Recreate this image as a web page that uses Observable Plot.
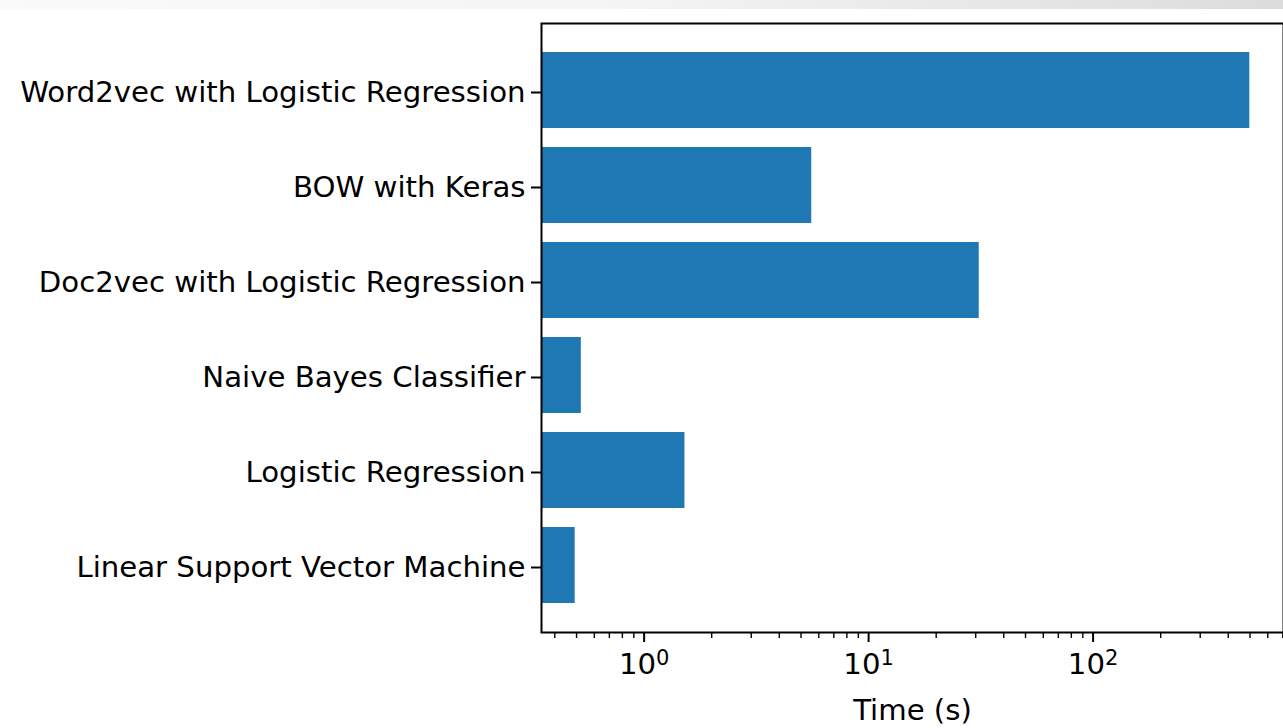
<!DOCTYPE html>
<html>
<head>
<meta charset="utf-8">
<script src="https://cdn.jsdelivr.net/npm/d3@7"></script>
<script src="https://cdn.jsdelivr.net/npm/@observablehq/plot@0.6"></script>
<style>
  html, body { margin: 0; padding: 0; background: #fff; overflow: hidden; }
  #strip { height: 9px; width: 1283px; background: linear-gradient(to right, #fafafa 0%, #f4f4f4 50%, #dcdcdc 100%); position: absolute; top: 0; left: 0; }
  #chart svg { display: block; }
</style>
</head>
<body>
<div id="strip"></div>
<div id="chart"></div>
<script>
const names = [
  "Word2vec with Logistic Regression",
  "BOW with Keras",
  "Doc2vec with Logistic Regression",
  "Naive Bayes Classifier",
  "Logistic Regression",
  "Linear Support Vector Machine"
];
const times = [499, 5.58, 31.1, 0.525, 1.52, 0.493];
const majorTicks = [1, 10, 100];
const minorTicks = [0.4, 0.5, 0.6, 0.7, 0.8, 0.9, 2, 3, 4, 5, 6, 7, 8, 9, 20, 30, 40, 50, 60, 70, 80, 90, 200, 300, 400, 500, 600, 700];
const xDomain = [0.349, 705];

const data = names.map((name, i) => ({name, time: times[i]}));

const chart = Plot.plot({
  width: 1283,
  height: 728,
  marginLeft: 541,
  marginRight: 0,
  marginTop: 23,
  marginBottom: 96,
  style: {fontFamily: "DejaVu Sans", fontSize: "29.2px", color: "#000", background: "transparent"},
  x: {type: "log", domain: xDomain},
  y: {domain: names, paddingInner: 0.2, paddingOuter: 0.283},
  marks: [
    Plot.barX(data, {x1: () => xDomain[0], x2: "time", y: "name", fill: "#1f77b4"}),
    Plot.frame({stroke: "#000", strokeWidth: 2}),
    Plot.axisY({tickSize: 10, tickPadding: 6, strokeWidth: 2, fontSize: 29.2, label: null, dy: 2}),
    Plot.axisX({ticks: minorTicks, tickSize: 6, strokeWidth: 1.4, tickFormat: () => "", label: null}),
    Plot.axisX({ticks: majorTicks, tickSize: 10, tickPadding: 11, strokeWidth: 2, fontSize: 29.2,
      tickFormat: d => "10^" + Math.round(Math.log10(d)),
      label: "Time (s)", labelAnchor: "center", labelArrow: "none", labelOffset: 87})
  ]
});

d3.select(chart).selectAll("text").each(function() {
  const t = this.textContent;
  const m = /^10\^(-?\d+)$/.exec(t);
  if (m) {
    const sel = d3.select(this);
    sel.text("10");
    sel.append("tspan").attr("dy", "-0.45em").attr("font-size", "72%").text(m[1]);
  }
});

document.getElementById("chart").appendChild(chart);
</script>
</body>
</html>
